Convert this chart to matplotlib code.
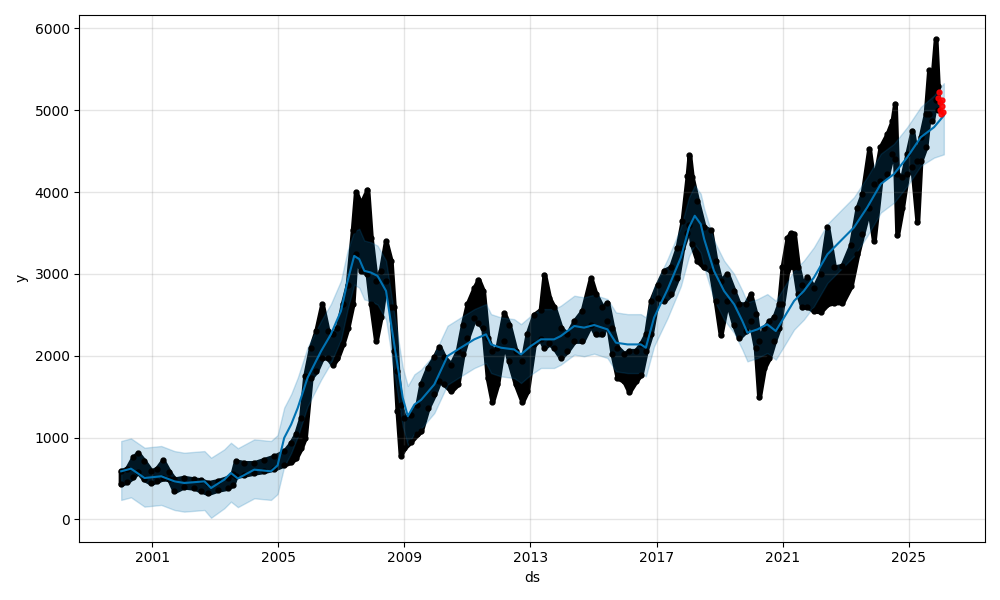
import matplotlib
matplotlib.use("Agg")
import matplotlib.pyplot as plt

# ---- observed data (per-period low / high envelope, decimal years) ----
obs_years = [2000.0, 2000.2, 2000.4, 2000.55, 2000.75, 2000.97, 2001.15, 2001.34, 2001.54, 2001.71,
             2002.0, 2002.34, 2002.55, 2002.77, 2003.08, 2003.4, 2003.55, 2003.65, 2003.93, 2004.24,
             2004.56, 2004.88, 2005.19, 2005.4, 2005.56, 2005.72, 2005.85, 2006.03, 2006.2, 2006.39,
             2006.57, 2006.73, 2006.88, 2007.04, 2007.2, 2007.36, 2007.46, 2007.62, 2007.83, 2007.94,
             2008.1, 2008.25, 2008.41, 2008.57, 2008.67, 2008.78, 2008.88, 2008.99, 2009.2, 2009.41,
             2009.53, 2009.74, 2009.95, 2010.11, 2010.27, 2010.48, 2010.69, 2010.85, 2011.0, 2011.22,
             2011.35, 2011.5, 2011.64, 2011.79, 2011.95, 2012.16, 2012.32, 2012.53, 2012.74, 2012.9,
             2013.11, 2013.32, 2013.44, 2013.6, 2013.75, 2013.96, 2014.17, 2014.39, 2014.65, 2014.91,
             2015.07, 2015.28, 2015.44, 2015.6, 2015.76, 2015.97, 2016.13, 2016.34, 2016.5, 2016.66,
             2016.82, 2017.03, 2017.24, 2017.45, 2017.66, 2017.82, 2017.98, 2018.04, 2018.12, 2018.29,
             2018.5, 2018.71, 2018.87, 2019.03, 2019.24, 2019.45, 2019.61, 2019.82, 2019.98, 2020.14,
             2020.25, 2020.41, 2020.57, 2020.73, 2020.88, 2020.99, 2021.15, 2021.25, 2021.36, 2021.49,
             2021.62, 2021.78, 2021.99, 2022.2, 2022.42, 2022.63, 2022.89, 2023.16, 2023.37, 2023.53,
             2023.74, 2023.89, 2024.1, 2024.32, 2024.48, 2024.56, 2024.63, 2024.79, 2024.95, 2025.11,
             2025.27, 2025.37, 2025.53, 2025.64, 2025.74, 2025.85, 2025.92]
obs_low = [430, 460, 520, 580, 490, 445, 470, 500, 490, 345,
           400, 385, 350, 320, 360, 385, 420, 530, 545, 570,
           590, 620, 670, 700, 750, 870, 1000, 1730, 1810, 1975,
           1975, 1890, 1975, 2140, 2340, 2630, 3240, 3040, 3000, 2630,
           2180, 2470, 2910, 2590, 2060, 1320, 780, 870, 950, 1040,
           1080, 1360, 1530, 1690, 1650, 1570, 1650, 2020, 2220, 2460,
           2400, 2340, 1730, 1440, 1650, 2180, 1930, 1650, 1440, 1570,
           2140, 2200, 2100, 2150, 2100, 1975, 2060, 2180, 2180, 2380,
           2260, 2260, 2420, 2020, 1730, 1690, 1560, 1690, 1770, 2060,
           2260, 2710, 2670, 2750, 2950, 3320, 3500, 3600, 3360, 3160,
           3080, 3040, 2670, 2250, 2670, 2380, 2220, 2300, 2420, 2100,
           1490, 1850, 1975, 2180, 2340, 2630, 3040, 3100, 3080, 2750,
           2590, 2600, 2550, 2540, 2630, 2650, 2650, 2850, 3240, 3490,
           3810, 3400, 4140, 4220, 4470, 4400, 3470, 3810, 4220, 4300,
           3630, 4380, 4550, 4950, 4870, 5120, 5000]
obs_high = [590, 620, 760, 810, 710, 590, 620, 720, 580, 490,
            510, 490, 480, 445, 470, 510, 560, 710, 690, 690,
            730, 770, 830, 930, 1040, 1240, 1750, 2100, 2300, 2630,
            2300, 2260, 2340, 2630, 2870, 3530, 4000, 3850, 4030, 3440,
            2910, 3040, 3400, 3160, 2590, 1810, 1400, 1240, 1280, 1400,
            1650, 1850, 1980, 2110, 1980, 1890, 2060, 2380, 2630, 2830,
            2930, 2790, 2220, 2060, 2100, 2520, 2380, 2060, 1930, 2260,
            2500, 2560, 2990, 2700, 2590, 2340, 2260, 2420, 2550, 2950,
            2750, 2590, 2650, 2340, 2100, 2020, 2060, 2060, 2140, 2260,
            2670, 2870, 3040, 3080, 3320, 3650, 4200, 4450, 4180, 3890,
            3570, 3530, 3160, 2910, 3000, 2790, 2630, 2630, 2750, 2510,
            2180, 2340, 2420, 2470, 2630, 3080, 3440, 3500, 3490, 3080,
            2870, 2960, 2830, 3000, 3570, 3080, 3100, 3350, 3810, 3980,
            4530, 4100, 4550, 4710, 4870, 5080, 4220, 4180, 4470, 4750,
            4380, 4670, 4950, 5490, 5360, 5870, 5300]

# ---- held-out points (red) ----
test_years = [2025.94, 2025.96, 2025.98, 2026.0, 2026.02, 2026.04, 2026.06, 2026.08]
test_vals = [5150, 5220, 5100, 5000, 4950, 5050, 5120, 4980]

# ---- model fit (yhat) and uncertainty band ----
fc_years = [2000.02, 2000.33, 2000.76, 2001.29, 2001.71, 2002.02, 2002.66, 2002.87, 2003.29, 2003.5,
            2003.72, 2004.24, 2004.77, 2004.98, 2005.19, 2005.41, 2005.62, 2005.93, 2006.36, 2006.67,
            2006.99, 2007.2, 2007.41, 2007.57, 2007.73, 2007.94, 2008.15, 2008.42, 2008.68, 2008.95,
            2009.11, 2009.32, 2009.53, 2009.95, 2010.37, 2010.79, 2011.22, 2011.59, 2011.75, 2012.06,
            2012.48, 2012.7, 2013.01, 2013.33, 2013.75, 2013.96, 2014.39, 2014.7, 2015.02, 2015.44,
            2015.71, 2016.08, 2016.5, 2016.66, 2016.92, 2017.35, 2017.77, 2018.03, 2018.21, 2018.4,
            2018.51, 2018.82, 2019.14, 2019.46, 2019.72, 2019.88, 2020.2, 2020.51, 2020.78, 2021.04,
            2021.36, 2021.67, 2021.99, 2022.42, 2022.84, 2023.26, 2023.68, 2024.11, 2024.53, 2024.95,
            2025.38, 2025.8, 2026.11]
yhat = [588, 620, 506, 527, 465, 445, 465, 384, 486, 567,
        500, 608, 588, 660, 996, 1160, 1363, 1730, 2057, 2261,
        2546, 2914, 3220, 3180, 3037, 3016, 2975, 2791, 2138, 1485,
        1261, 1403, 1460, 1649, 1996, 2098, 2200, 2261, 2138, 2098,
        2077, 2016, 2118, 2200, 2200, 2240, 2363, 2343, 2375, 2322,
        2159, 2138, 2138, 2098, 2465, 2812, 3200, 3567, 3710, 3608,
        3424, 3037, 2791, 2628, 2424, 2281, 2322, 2383, 2302, 2465,
        2669, 2791, 2955, 3240, 3404, 3567, 3812, 4098, 4220, 4424,
        4670, 4792, 4934]
yhat_upper = [958, 990, 876, 897, 835, 815, 835, 754, 856, 937,
              870, 978, 958, 1030, 1366, 1530, 1733, 2100, 2427, 2631,
              2916, 3284, 3520, 3550, 3407, 3386, 3345, 3161, 2508, 1855,
              1631, 1773, 1830, 2019, 2366, 2468, 2570, 2631, 2508, 2468,
              2447, 2386, 2488, 2570, 2570, 2610, 2733, 2713, 2745, 2692,
              2529, 2508, 2508, 2468, 2835, 3182, 3570, 3937, 4080, 3978,
              3794, 3407, 3161, 2998, 2794, 2651, 2692, 2753, 2672, 2835,
              3039, 3161, 3325, 3610, 3774, 3937, 4182, 4468, 4590, 4794,
              5040, 5180, 5330]
yhat_lower = [238, 270, 156, 177, 115, 95, 115, 20, 136, 217,
              150, 258, 238, 310, 646, 810, 1013, 1380, 1707, 1911,
              2196, 2564, 2870, 2830, 2687, 2666, 2625, 2441, 1788, 1135,
              911, 1053, 1110, 1299, 1646, 1748, 1850, 1911, 1788, 1748,
              1727, 1666, 1768, 1850, 1850, 1890, 2013, 1993, 2025, 1972,
              1809, 1788, 1788, 1748, 2115, 2462, 2850, 3217, 3360, 3258,
              3074, 2687, 2441, 2278, 2074, 1931, 1972, 2033, 1952, 2115,
              2319, 2441, 2605, 2890, 3054, 3217, 3462, 3748, 3870, 4074,
              4320, 4420, 4460]

tick_years = [2001, 2005, 2009, 2013, 2017, 2021, 2025]

fig = plt.figure(facecolor="w", figsize=(10, 6), dpi=100)
ax = fig.add_subplot(111)

# observed data: dense daily cloud approximated by its envelope plus points
ax.fill_between(obs_years, obs_low, obs_high, color="k", lw=3.5)
ax.plot(obs_years, obs_low, "k.", ms=7)
ax.plot(obs_years, obs_high, "k.", ms=7)

ax.plot(fc_years, yhat, ls="-", c="#0072B2", lw=1.5)
ax.fill_between(fc_years, yhat_lower, yhat_upper, color="#0072B2", alpha=0.2)

ax.plot(test_years, test_vals, "r.", ms=7, alpha=0.9)

ax.grid(True, which="major", c="gray", ls="-", lw=1, alpha=0.2)
ax.set_xticks(tick_years)
ax.set_xticklabels([str(t) for t in tick_years])
ax.set_xlabel("ds")
ax.set_ylabel("y")
fig.tight_layout()
fig.savefig("out.png", dpi=100)
